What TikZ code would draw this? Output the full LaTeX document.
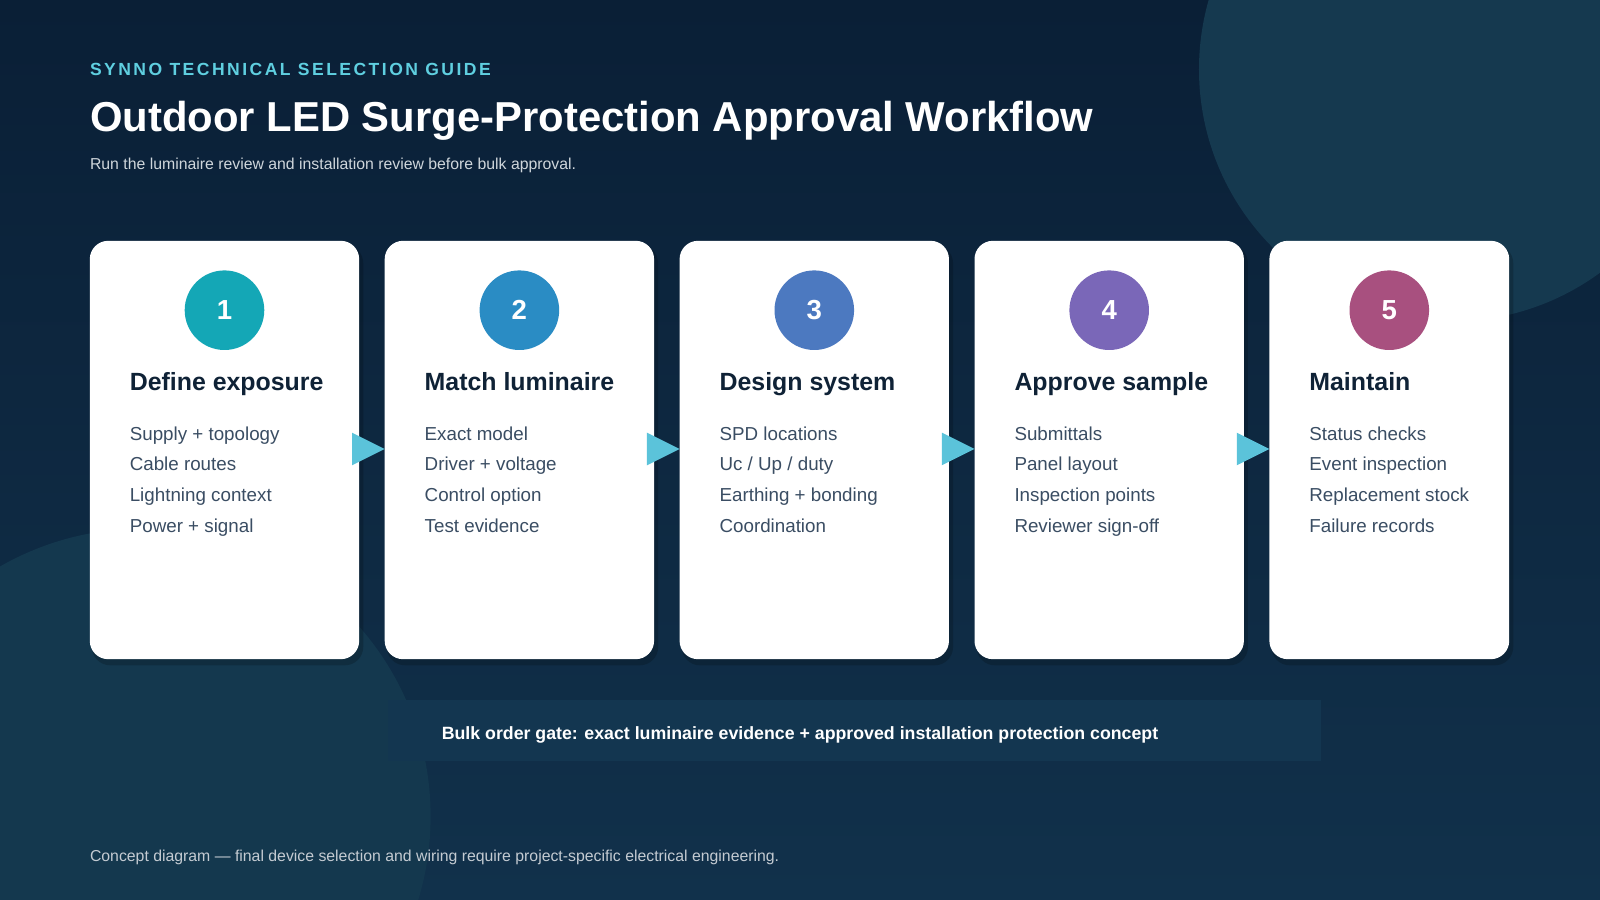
\documentclass[tikz,border=0pt]{standalone}
\usepackage{fontspec}
\setmainfont{Liberation Sans}
\usetikzlibrary{calc}
\definecolor{bgA}{HTML}{0A1F36}
\definecolor{bgB}{HTML}{11314B}
\definecolor{blob}{HTML}{15394F}
\definecolor{band}{HTML}{133650}
\definecolor{kick}{HTML}{5FCFE0}
\definecolor{arr}{HTML}{5BC3DA}
\definecolor{ink}{HTML}{0F2236}
\definecolor{item}{HTML}{3A4D63}
\definecolor{cA}{HTML}{14A7B6}
\definecolor{cB}{HTML}{2A8CC4}
\definecolor{cC}{HTML}{4C79C0}
\definecolor{cD}{HTML}{7A67B8}
\definecolor{cE}{HTML}{A8507F}
\tikzset{
 card/.style={fill=white,rounded corners=18pt,draw=none},
 num/.style={circle,minimum size=78pt,inner sep=0pt,text=white,font=\fontsize{27}{30}\selectfont\bfseries},
 ttl/.style={anchor=base west,text=ink,font=\fontsize{24.4}{28}\selectfont\bfseries,inner sep=0pt},
 itm/.style={anchor=base west,text=item,font=\fontsize{18.4}{21}\selectfont,inner sep=0pt},
 tri/.style={fill=arr,draw=none}
}
\begin{document}
\begin{tikzpicture}[x=1pt,y=-1pt]
\useasboundingbox (0,0) rectangle (1568,882);
\shade[top color=bgA,bottom color=bgB] (0,0) rectangle (1568,882);
\begin{scope}
\clip (0,0) rectangle (1568,882);
\fill[blob] (1422,68) circle (247);
\fill[blob!85!bgB] (140,800) circle (282);
\end{scope}
\node[anchor=base west,inner sep=0pt,text=kick,font=\fontsize{17.2}{20}\selectfont\bfseries\addfontfeatures{LetterSpace=14}] (kick) at (88,74) {SYNNO TECHNICAL SELECTION GUIDE};
\node[anchor=base west,inner sep=0pt,text=white,font=\fontsize{41}{46}\selectfont\bfseries] (title) at (88,129) {Outdoor LED Surge-Protection Approval Workflow};
\node[anchor=base west,inner sep=0pt,text=white!80!bgB,font=\fontsize{15.5}{18}\selectfont] (sub) at (88,166) {Run the luminaire review and installation review before bulk approval.};
\foreach \i/\l/\r/\c/\t/\a/\b/\cc/\d in {
 1/88/352/cA/Define exposure/Supply + topology/Cable routes/Lightning context/Power + signal,
 2/377/641/cB/Match luminaire/Exact model/Driver + voltage/Control option/Test evidence,
 3/666/930/cC/Design system/SPD locations/{Uc / Up / duty}/Earthing + bonding/Coordination,
 4/955/1219/cD/Approve sample/Submittals/Panel layout/Inspection points/Reviewer sign-off,
 5/1244/1479/cE/Maintain/Status checks/Event inspection/Replacement stock/Failure records}{
 \fill[black,opacity=0.18,rounded corners=18pt] (\l+2,240) rectangle (\r+4,652);
 \fill[card] (\l,236) rectangle (\r,646);
 \node[num,fill=\c] (n\i) at ({(\l+\r)/2},304) {\i};
 \node[ttl] (t\i) at (\l+39,382.5) {\t};
 \node[itm] (a\i) at (\l+39,431.5) {\a};
 \node[itm] (b\i) at (\l+39,461.5) {\b};
 \node[itm] (c\i) at (\l+39,491.5) {\cc};
 \node[itm] (d\i) at (\l+39,522) {\d};
}
\foreach \x in {345,634,923,1212}{
 \fill[tri] (\x,424) -- (\x+32,440) -- (\x,456) -- cycle;
}
\fill[band] (380,686) rectangle (1295,746);
\node[anchor=base,inner sep=0pt,text=white,font=\fontsize{17.4}{20}\selectfont\bfseries] (gate) at (784,725) {Bulk order gate: exact luminaire evidence + approved installation protection concept};
\node[anchor=base west,inner sep=0pt,text=white!75!bgB,font=\fontsize{15.5}{18}\selectfont] (foot) at (88,844.5) {Concept diagram — final device selection and wiring require project-specific electrical engineering.};
\end{tikzpicture}
\end{document}
